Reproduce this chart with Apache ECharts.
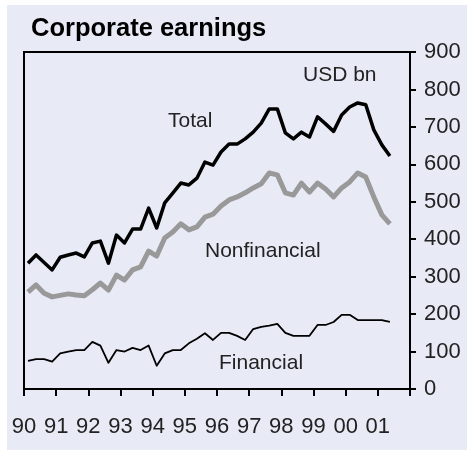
<!DOCTYPE html>
<html>
<head>
<meta charset="utf-8">
<script src="https://cdn.jsdelivr.net/npm/echarts@6/dist/echarts.min.js"></script>
<style>
  html, body { margin: 0; padding: 0; background: #fff; }
  #main { width: 467px; height: 450px; }
</style>
</head>
<body>
<div id="main"></div>
<script>
// quarterly data, 1990 Q1 .. 2001 Q2, USD bn
const startYear = 1990;
const total = [
  336, 358, 338, 318, 352, 358, 363, 353, 390, 395, 336, 411, 390, 427, 427, 483,
  430, 497, 523, 550, 545, 563, 606, 598, 633, 654, 654, 668, 686, 710,
  748, 748, 684, 668, 686, 673, 727, 708, 688, 732, 753, 764, 759, 692, 652, 622
];
const nonfinancial = [
  259, 278, 256, 246, 250, 254, 251, 249, 265, 283, 264, 304, 291, 318, 326, 368,
  355, 403, 419, 441, 425, 433, 459, 467, 489, 505, 513, 524, 537, 548,
  577, 572, 524, 518, 550, 526, 550, 534, 513, 537, 553, 577, 566, 513, 465, 441
];
const financial = [
  75, 80, 80, 73, 95, 100, 104, 104, 126, 116, 70, 104, 100, 110, 104, 116,
  62, 95, 104, 104, 122, 134, 149, 131, 150, 150, 142, 131, 160, 166,
  169, 174, 150, 142, 142, 142, 171, 171, 179, 198, 198, 184, 184, 184, 184, 179
];
const yTicks = [0, 100, 200, 300, 400, 500, 600, 700, 800, 900];

// place each quarter in the middle of its slot on a year axis
const toPoints = arr => arr.map((v, i) => [startYear + (i + 0.5) / 4, v]);

const font = '"Liberation Sans", Arial, sans-serif';
const txt = '#222';

var myChart = echarts.init(document.getElementById('main'));

const option = {
  backgroundColor: '#fff',
  animation: false,
  grid: {
    left: 24, right: 57, top: 52, bottom: 61,
    show: true, borderColor: '#000', borderWidth: 2, backgroundColor: 'transparent'
  },
  xAxis: {
    type: 'value',
    min: 1990, max: 2002, interval: 1,
    axisLine: { show: true, lineStyle: { color: '#000', width: 2 } },
    axisTick: { show: true, inside: false, length: 7, lineStyle: { color: '#000', width: 2 } },
    splitLine: { show: false },
    axisLabel: {
      margin: 27, fontSize: 22, color: txt, fontFamily: font,
      formatter: v => (v >= 2002 ? '' : String(v % 100).padStart(2, '0'))
    }
  },
  yAxis: {
    type: 'value',
    position: 'right',
    min: yTicks[0], max: yTicks[yTicks.length - 1], interval: 100,
    axisLine: { show: true, lineStyle: { color: '#000', width: 2 } },
    axisTick: { show: true, inside: false, length: 6, lineStyle: { color: '#000', width: 2 } },
    splitLine: { show: false },
    axisLabel: { margin: 14, fontSize: 22, color: txt, fontFamily: font }
  },
  graphic: [
    { type: 'rect', z: -10, shape: { x: 7, y: 5, width: 460, height: 445 }, style: { fill: '#e8eaf6' } },
    { type: 'text', x: 31, y: 29, style: { text: 'Corporate earnings', font: 'bold 25.5px ' + font, fill: '#000', verticalAlign: 'middle' } },
    { type: 'text', x: 303, y: 75, style: { text: 'USD bn', font: '21px ' + font, fill: txt, verticalAlign: 'middle' } },
    { type: 'text', x: 168, y: 121, style: { text: 'Total', font: '21px ' + font, fill: txt, verticalAlign: 'middle' } },
    { type: 'text', x: 205, y: 251, style: { text: 'Nonfinancial', font: '21px ' + font, fill: txt, verticalAlign: 'middle' } },
    { type: 'text', x: 219, y: 363, style: { text: 'Financial', font: '21px ' + font, fill: txt, verticalAlign: 'middle' } }
  ],
  series: [
    {
      name: 'Nonfinancial', type: 'line', data: toPoints(nonfinancial),
      showSymbol: false, lineStyle: { color: '#999', width: 5, join: 'round' }
    },
    {
      name: 'Total', type: 'line', data: toPoints(total),
      showSymbol: false, lineStyle: { color: '#000', width: 3.5, join: 'round' }
    },
    {
      name: 'Financial', type: 'line', data: toPoints(financial),
      showSymbol: false, lineStyle: { color: '#000', width: 1.8, join: 'round' }
    }
  ]
};

myChart.setOption(option);
</script>
</body>
</html>
